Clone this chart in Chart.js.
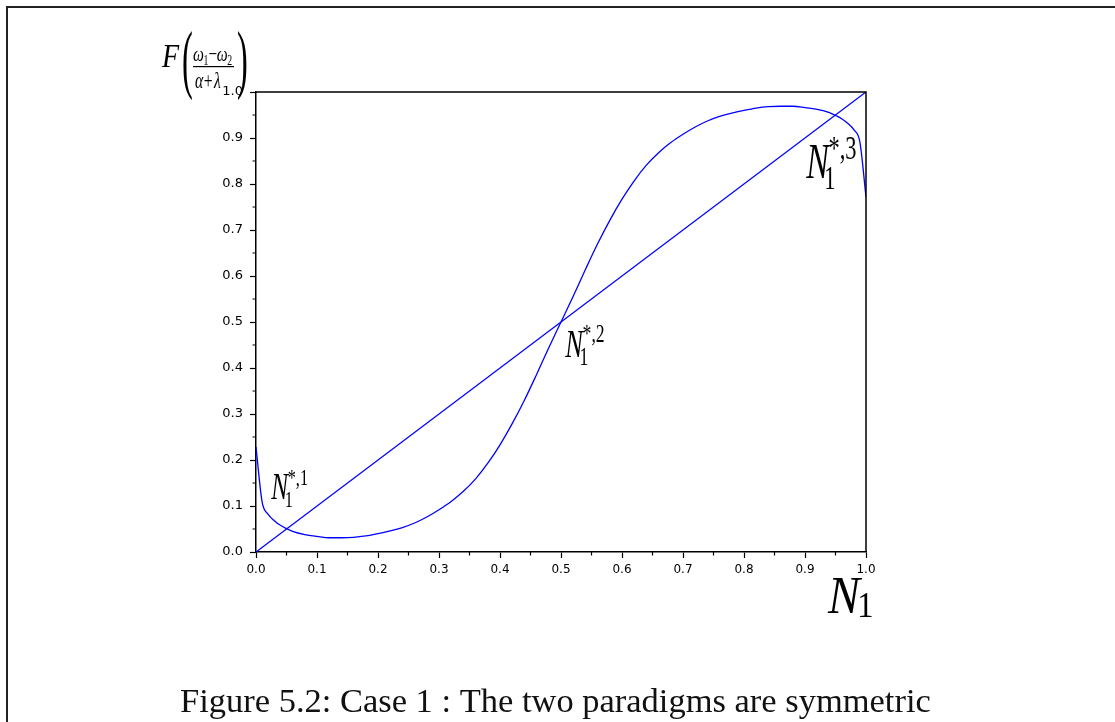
<!DOCTYPE html>
<html>
<head>
<meta charset="utf-8">
<script src="https://cdn.jsdelivr.net/npm/chart.js@4.4.1/dist/chart.umd.min.js"></script>
<style>
  html, body { margin: 0; padding: 0; background: #fff; }
  #wrap { width: 1115px; height: 722px; position: relative; }
</style>
</head>
<body>
<div id="wrap"><canvas id="chartF"></canvas></div>
<script>
// values
let xValues = [0, 0.01, 0.02, 0.03, 0.04, 0.05, 0.06, 0.08, 0.10, 0.12, 0.14, 0.16, 0.18, 0.20,
  0.22, 0.24, 0.26, 0.28, 0.30, 0.32, 0.34, 0.36, 0.38, 0.40, 0.42, 0.44, 0.46, 0.48, 0.50,
  0.52, 0.54, 0.56, 0.58, 0.60, 0.62, 0.64, 0.66, 0.68, 0.70, 0.72, 0.74, 0.76, 0.78, 0.80,
  0.82, 0.84, 0.86, 0.88, 0.90, 0.92, 0.94, 0.95, 0.96, 0.97, 0.98, 0.99, 1.00]
let curveValues = [0.228, 0.109, 0.082, 0.068, 0.058, 0.051, 0.045, 0.038, 0.034, 0.031, 0.031, 0.032, 0.035, 0.040,
  0.046, 0.053, 0.063, 0.076, 0.092, 0.110, 0.132, 0.159, 0.193, 0.233, 0.279, 0.330, 0.386, 0.444, 0.500,
  0.556, 0.614, 0.670, 0.721, 0.767, 0.807, 0.841, 0.868, 0.890, 0.908, 0.924, 0.937, 0.947, 0.954, 0.960,
  0.965, 0.968, 0.969, 0.969, 0.966, 0.962, 0.955, 0.949, 0.942, 0.932, 0.918, 0.891, 0.772]
let diagonalX = [0, 1]
let diagonalY = [0, 1]
let minorTicks = [0.05, 0.15, 0.25, 0.35, 0.45, 0.55, 0.65, 0.75, 0.85, 0.95]
let fixedLabels = [
  { sup: '*,1', x: 0.025, y: 0.115, size: 37 },
  { sup: '*,2', x: 0.507, y: 0.425, size: 39 },
  { sup: '*,3', x: 0.902, y: 0.813, size: 50 }
]

function toPoints(xs, ys) {
  let pts = []
  for (let i = 0; i < xs.length; i++) {
    pts.push({ x: xs[i], y: ys[i] })
  }
  return pts
}

const SERIF = '"Liberation Serif", "DejaVu Serif", serif'

function drawN(ctx, x, base, size, sx, sub, sup, subDrop, subScale, subShift) {
  ctx.save()
  ctx.translate(x, base)
  ctx.scale(sx, 1)
  ctx.fillStyle = '#000'
  ctx.textBaseline = 'alphabetic'
  ctx.textAlign = 'left'
  ctx.font = 'italic ' + size + 'px ' + SERIF
  ctx.fillText('N', 0, 0)
  let w = ctx.measureText('N').width
  ctx.font = Math.round(size * subScale) + 'px ' + SERIF
  ctx.fillText(sub, w * subShift, size * subDrop)
  if (sup) ctx.fillText(sup, w * 0.98, -size * 0.38)
  ctx.restore()
}

let decorations = {
  id: 'decorations',
  afterDraw(chart) {
    let ctx = chart.ctx
    let area = chart.chartArea
    let xs = chart.scales.x
    let ys = chart.scales.y

    // page frame
    ctx.save()
    ctx.strokeStyle = '#222'
    ctx.lineWidth = 2
    ctx.beginPath()
    ctx.moveTo(7, 722)
    ctx.lineTo(7, 7)
    ctx.lineTo(1115, 7)
    ctx.stroke()

    // top and right spines
    ctx.strokeStyle = '#000'
    ctx.lineWidth = 1.5
    ctx.beginPath()
    ctx.moveTo(area.left, area.top)
    ctx.lineTo(area.right, area.top)
    ctx.lineTo(area.right, area.bottom)
    ctx.stroke()

    // minor ticks
    ctx.lineWidth = 1.2
    ctx.beginPath()
    for (let v of minorTicks) {
      let px = xs.getPixelForValue(v)
      ctx.moveTo(px, area.bottom)
      ctx.lineTo(px, area.bottom + 3.5)
      let py = ys.getPixelForValue(v)
      ctx.moveTo(area.left, py)
      ctx.lineTo(area.left - 3.5, py)
    }
    ctx.stroke()
    ctx.restore()

    // fixed point labels
    for (let lab of fixedLabels) {
      drawN(ctx, xs.getPixelForValue(lab.x), ys.getPixelForValue(lab.y), lab.size, 0.68, '1', lab.sup, 0.22, 0.66, 0.8)
    }

    // x axis title N_1
    drawN(ctx, 828, 613, 53, 0.9, '1', null, 0.08, 0.68, 0.92)

    // y axis title F( (w1-w2)/(a+l) )
    ctx.save()
    ctx.fillStyle = '#000'
    ctx.textBaseline = 'alphabetic'
    ctx.font = 'italic 33px ' + SERIF
    ctx.save()
    ctx.translate(162, 67)
    ctx.scale(0.85, 1)
    ctx.fillText('F', 0, 0)
    ctx.restore()
    // big parens
    ctx.font = '72px ' + SERIF
    ctx.save()
    ctx.translate(182, 84)
    ctx.scale(0.45, 1.05)
    ctx.fillText('(', 0, 0)
    ctx.restore()
    ctx.save()
    ctx.translate(237, 84)
    ctx.scale(0.45, 1.05)
    ctx.fillText(')', 0, 0)
    ctx.restore()
    // numerator
    ctx.save()
    ctx.translate(193, 61)
    ctx.scale(0.7, 1)
    ctx.font = 'italic 22px ' + SERIF
    ctx.fillText('ω', 0, 0)
    ctx.font = '14px ' + SERIF
    ctx.fillText('1', 15, 4)
    ctx.font = '22px ' + SERIF
    ctx.fillText('−', 22, 0)
    ctx.font = 'italic 22px ' + SERIF
    ctx.fillText('ω', 34, 0)
    ctx.font = '14px ' + SERIF
    ctx.fillText('2', 49, 4)
    ctx.restore()
    // fraction bar
    ctx.fillRect(193, 66, 41, 1.2)
    // denominator
    ctx.save()
    ctx.translate(195, 88)
    ctx.scale(0.68, 1)
    ctx.font = 'italic 23px ' + SERIF
    ctx.fillText('α', 0, 0)
    ctx.font = '23px ' + SERIF
    ctx.fillText('+', 13, 0)
    ctx.font = 'italic 23px ' + SERIF
    ctx.fillText('λ', 28, 0)
    ctx.restore()

    // caption
    let caption = 'Figure 5.2: Case 1 : The two paradigms are symmetric'
    ctx.font = '100px ' + SERIF
    let wide = ctx.measureText(caption).width
    let size = 100 * 751 / wide
    ctx.font = size + 'px ' + SERIF
    ctx.textAlign = 'left'
    ctx.fillStyle = '#111'
    ctx.fillText(caption, 180, 712)
    ctx.restore()
  }
}

let ctx = document.getElementById('chartF').getContext('2d')
let myChart = new Chart(ctx, {
  type: 'line',
  data: {
    datasets: [{
      data: toPoints(xValues, curveValues),
      borderColor: '#0000ff',
      borderWidth: 1.3,
      pointRadius: 0,
      cubicInterpolationMode: 'monotone',
      fill: false
    }, {
      data: toPoints(diagonalX, diagonalY),
      borderColor: '#0000ff',
      borderWidth: 1.3,
      pointRadius: 0,
      tension: 0,
      fill: false
    }]
  },
  options: {
    responsive: true,
    maintainAspectRatio: false,
    animation: false,
    events: [],
    layout: { padding: { left: 206, right: 249, top: 92, bottom: 140 } },
    plugins: { legend: { display: false }, tooltip: { enabled: false } },
    scales: {
      x: {
        type: 'linear',
        min: 0,
        max: 1,
        afterFit: function(scale) { scale.height = 30 },
        border: { display: true, color: '#000', width: 1.5 },
        grid: { drawOnChartArea: false, drawTicks: true, tickLength: 6, tickColor: '#000', tickWidth: 1.2 },
        ticks: {
          stepSize: 0.1,
          padding: 5,
          color: '#000',
          font: { family: 'DejaVu Sans', size: 12 },
          maxRotation: 0,
          callback: function(v) { return v.toFixed(1) }
        }
      },
      y: {
        type: 'linear',
        min: 0,
        max: 1,
        afterFit: function(scale) { scale.width = 50 },
        border: { display: true, color: '#000', width: 1.5 },
        grid: { drawOnChartArea: false, drawTicks: true, tickLength: 6, tickColor: '#000', tickWidth: 1.2 },
        ticks: {
          stepSize: 0.1,
          padding: 7,
          color: '#000',
          font: { family: 'DejaVu Sans', size: 13 },
          callback: function(v) { return v.toFixed(1) }
        }
      }
    }
  },
  plugins: [decorations]
})
</script>
</body>
</html>
